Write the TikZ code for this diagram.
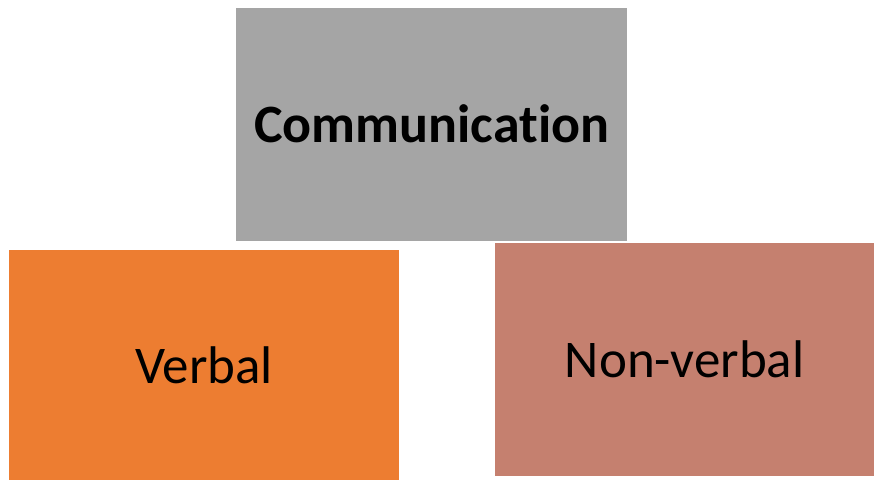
\documentclass[tikz,border=0pt]{standalone}
\usepackage{fontspec}
\setmainfont[Ligatures=NoCommon]{Carlito}
\begin{document}
\begin{tikzpicture}[x=1pt,y=-1pt,
  block/.style={draw=none,anchor=north west,inner sep=0pt,font=\fontsize{53}{60}\selectfont},
  block top/.style={block,fill=topgray,font=\fontsize{54}{60}\selectfont\bfseries}]
\definecolor{topgray}{HTML}{A5A5A5}
\definecolor{verbalorange}{HTML}{ED7D31}
\definecolor{nonverbalrose}{HTML}{C5806F}
\useasboundingbox[fill=white] (0,0) rectangle (874,480);
% top category
\node[block top,minimum width=391pt,minimum height=233pt] (comm) at (236,7.5) {Communication};
% the two kinds
\node[block,fill=verbalorange,minimum width=390pt,minimum height=230pt] (verbal) at (9,250) {Verbal};
\node[block,fill=nonverbalrose,minimum width=379pt,minimum height=233pt] (nonverbal) at (495,243) {Non-verbal};
\end{tikzpicture}
\end{document}
